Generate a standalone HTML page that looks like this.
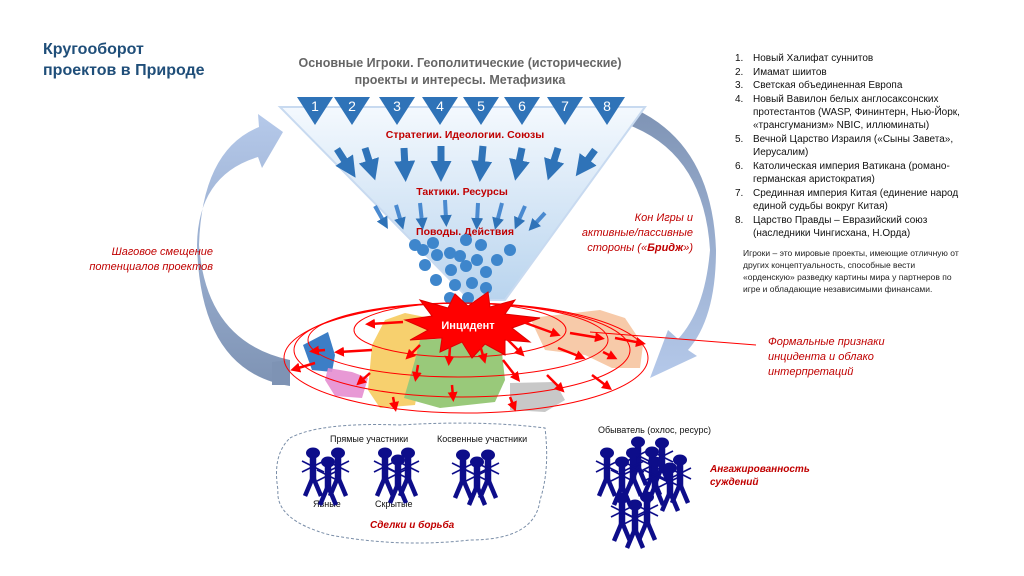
<!DOCTYPE html>
<html><head><meta charset="utf-8"><style>
html,body{margin:0;padding:0;background:#fff;}
svg{display:block;font-family:"Liberation Sans","DejaVu Sans",sans-serif;}
.r{fill:#c00000;font-style:italic;font-size:11px;}
.b{fill:#222;font-size:10px;}
.l{fill:#111;font-size:10px;}
</style></head><body>
<svg width="1024" height="576" viewBox="0 0 1024 576" xmlns="http://www.w3.org/2000/svg">
<defs>
<linearGradient id="fun" x1="0" y1="0" x2="0" y2="1">
<stop offset="0" stop-color="#f4f9fe"/><stop offset="1" stop-color="#b9d4ee"/></linearGradient>
<linearGradient id="la" x1="0" y1="0" x2="0" y2="1">
<stop offset="0" stop-color="#b5c9ea"/><stop offset="1" stop-color="#7e93b4"/></linearGradient>
<linearGradient id="ra" x1="0" y1="0" x2="0" y2="1">
<stop offset="0" stop-color="#7e93b4"/><stop offset="1" stop-color="#b5c9ea"/></linearGradient>
<marker id="ah" markerWidth="4" markerHeight="4" refX="2" refY="2" orient="auto"><path d="M0,0 L4,2 L0,4 Z" fill="#f00"/></marker>
<marker id="bh" markerWidth="3" markerHeight="3" refX="1" refY="1.5" orient="auto"><path d="M0,0 L3,1.5 L0,3 Z" fill="#2f73b8"/></marker>
<g id="man" fill="#0d0d8a" stroke="#0d0d8a">
<ellipse cx="0" cy="0" rx="7" ry="5.5" stroke="none"/>
<line x1="0" y1="3" x2="0" y2="27" stroke-width="6.5"/>
<line x1="-11" y1="19" x2="11" y2="8" stroke-width="1.6"/>
<line x1="-11" y1="8" x2="11" y2="19" stroke-width="1.6"/>
<line x1="0" y1="24" x2="-8" y2="43" stroke-width="4.5"/>
<line x1="0" y1="24" x2="8" y2="43" stroke-width="4.5"/>
</g>
</defs>

<text x="43" y="54" fill="#1f4e79" font-size="16" font-weight="bold">Кругооборот</text>
<text x="43" y="75" fill="#1f4e79" font-size="16" font-weight="bold">проектов в Природе</text>

<text x="460" y="67" fill="#666" font-size="12.5" font-weight="bold" text-anchor="middle">Основные Игроки. Геополитические (исторические)</text>
<text x="460" y="84" fill="#666" font-size="12.5" font-weight="bold" text-anchor="middle">проекты и интересы. Метафизика</text>

<path d="M290,386 Q200,372 197,245 Q198,175 258,157 L262,168 L283,132 L258,114 L259,127 Q202,150 199,245 Q206,342 290,360 Z" fill="url(#la)"/>
<path d="M628,106 Q712,140 716,250 Q716,318 688,350 L697,356 L650,378 L668,330 L678,339 Q705,310 710,250 Q704,152 626,124 Z" fill="url(#ra)"/>

<path d="M280,107 L645,107 L505,300 L470,300 Z" fill="url(#fun)" stroke="#c8daf0" stroke-width="2"/>
<g fill="#2f73b8">
<path d="M297,97 L333,97 L315,125Z"/><path d="M334,97 L370,97 L352,125Z"/><path d="M379,97 L415,97 L397,125Z"/>
<path d="M422,97 L458,97 L440,125Z"/><path d="M463,97 L499,97 L481,125Z"/><path d="M504,97 L540,97 L522,125Z"/>
<path d="M547,97 L583,97 L565,125Z"/><path d="M589,97 L625,97 L607,125Z"/>
</g>
<g fill="#fff" font-size="14" text-anchor="middle">
<text x="315" y="111">1</text><text x="352" y="111">2</text><text x="397" y="111">3</text><text x="440" y="111">4</text>
<text x="481" y="111">5</text><text x="522" y="111">6</text><text x="565" y="111">7</text><text x="607" y="111">8</text>
</g>
<g fill="#c00000" font-size="10.5" font-weight="bold" text-anchor="middle">
<text x="465" y="138">Стратегии. Идеологии. Союзы</text>
<text x="462" y="195">Тактики. Ресурсы</text>
<text x="465" y="235">Поводы. Действия</text>
</g>
<g stroke="#2f73b8" stroke-width="7" marker-end="url(#bh)">
<line x1="337" y1="149" x2="348" y2="166"/><line x1="365" y1="148" x2="371" y2="167"/>
<line x1="404" y1="148" x2="405" y2="168"/><line x1="441" y1="146" x2="441" y2="168"/>
<line x1="483" y1="146" x2="481" y2="168"/><line x1="522" y1="148" x2="518" y2="167"/>
<line x1="558" y1="148" x2="552" y2="167"/><line x1="595" y1="150" x2="584" y2="165"/>
</g>
<g stroke="#4a8ad0" stroke-width="4" marker-end="url(#bh)">
<line x1="375" y1="206" x2="384" y2="222"/><line x1="396" y1="205" x2="401" y2="222"/>
<line x1="420" y1="203" x2="422" y2="222"/><line x1="445" y1="200" x2="446" y2="219"/>
<line x1="478" y1="203" x2="477" y2="222"/><line x1="502" y1="203" x2="497" y2="222"/>
<line x1="525" y1="206" x2="518" y2="222"/><line x1="545" y1="213" x2="534" y2="225"/>
</g>
<g fill="#3e86cc">
<circle cx="415" cy="245" r="6"/><circle cx="423" cy="250" r="6"/><circle cx="433" cy="243" r="6"/><circle cx="437" cy="255" r="6"/>
<circle cx="450" cy="253" r="6"/><circle cx="460" cy="256" r="6"/><circle cx="466" cy="240" r="6"/><circle cx="481" cy="245" r="6"/>
<circle cx="477" cy="260" r="6"/><circle cx="497" cy="260" r="6"/><circle cx="510" cy="250" r="6"/><circle cx="425" cy="265" r="6"/>
<circle cx="451" cy="270" r="6"/><circle cx="466" cy="266" r="6"/><circle cx="486" cy="272" r="6"/><circle cx="436" cy="280" r="6"/>
<circle cx="455" cy="285" r="6"/><circle cx="472" cy="283" r="6"/><circle cx="486" cy="288" r="6"/><circle cx="450" cy="298" r="6"/>
<circle cx="468" cy="298" r="6"/>
</g>

<path d="M303,345 L328,332 L335,355 L332,372 L312,370 Z" fill="#3c7ec6"/>
<path d="M290,360 L290,385 L272,385 L272,362Z" fill="#7e93b4"/>
<path d="M328,368 L352,372 L368,378 L362,398 L335,396 L325,380Z" fill="#e58ed0" opacity=".9"/>
<path d="M405,313 L430,318 L425,350 L415,405 L380,408 L368,390 L372,345 L385,320Z" fill="#f7d06e"/>
<path d="M420,340 L500,335 L505,380 L495,402 L440,408 L404,398 L415,360Z" fill="#99c97a"/>
<path d="M510,383 L555,382 L565,400 L545,412 L510,410Z" fill="#c8c8c8"/>
<path d="M530,318 L600,310 L625,318 L643,345 L640,368 L612,368 L585,355 L545,350Z" fill="#f6c4a0" opacity=".9"/>

<g fill="none" stroke="#f00" stroke-width="1">
<ellipse cx="460" cy="330" rx="106" ry="27"/>
<ellipse cx="458" cy="340" rx="150" ry="37"/>
<ellipse cx="462" cy="350" rx="168" ry="47"/>
<ellipse cx="466" cy="358" rx="182" ry="55"/>
<line x1="590" y1="332" x2="756" y2="345"/>
</g>

<path d="M405,320 L432,316 L420,300 L448,308 L455,294 L468,306 L488,292 L490,307 L515,300 L505,314 L540,318 L512,328 L530,342 L505,340 L505,355 L485,344 L472,358 L462,342 L440,352 L442,338 L410,340 L428,330Z" fill="#f00" stroke="#d00" stroke-width="1"/>
<text x="468" y="329" fill="#fff" font-size="11" font-weight="bold" text-anchor="middle">Инцидент</text>

<g stroke="#f00" stroke-width="2.5" marker-end="url(#ah)">
<line x1="403" y1="322" x2="370" y2="324"/><line x1="372" y1="350" x2="339" y2="352"/>
<line x1="325" y1="350" x2="314" y2="351"/><line x1="315" y1="363" x2="295" y2="369"/>
<line x1="370" y1="373" x2="360" y2="382"/><line x1="420" y1="345" x2="409" y2="356"/>
<line x1="418" y1="365" x2="416" y2="377"/><line x1="450" y1="347" x2="449" y2="361"/>
<line x1="480" y1="345" x2="484" y2="359"/><line x1="503" y1="335" x2="521" y2="353"/>
<line x1="503" y1="360" x2="517" y2="378"/><line x1="452" y1="385" x2="453" y2="397"/>
<line x1="393" y1="397" x2="395" y2="407"/><line x1="510" y1="397" x2="514" y2="407"/>
<line x1="523" y1="322" x2="556" y2="334"/><line x1="570" y1="333" x2="600" y2="338"/>
<line x1="615" y1="338" x2="641" y2="343"/><line x1="558" y1="348" x2="581" y2="357"/>
<line x1="603" y1="352" x2="613" y2="357"/><line x1="547" y1="375" x2="561" y2="389"/>
<line x1="592" y1="375" x2="608" y2="387"/>
</g>

<g class="r" text-anchor="end">
<text x="213" y="255">Шаговое смещение</text>
<text x="213" y="270">потенциалов проектов</text>
<text x="693" y="221">Кон Игры и</text>
<text x="693" y="236">активные/пассивные</text>
<text x="693" y="251">стороны («<tspan font-weight="bold">Бридж</tspan>»)</text>
</g>
<g class="r">
<text x="768" y="345">Формальные признаки</text>
<text x="768" y="360">инцидента и облако</text>
<text x="768" y="375">интерпретаций</text>
<text x="710" y="472" font-weight="bold" font-size="10">Ангажированность</text>
<text x="710" y="485" font-weight="bold" font-size="10">суждений</text>
<text x="370" y="528" font-weight="bold" font-size="10">Сделки и борьба</text>
</g>

<g class="l">
<text x="735" y="61">1.</text><text x="753" y="61">Новый Халифат суннитов</text>
<text x="735" y="75">2.</text><text x="753" y="75">Имамат шиитов</text>
<text x="735" y="88">3.</text><text x="753" y="88">Светская объединенная Европа</text>
<text x="735" y="102">4.</text><text x="753" y="102">Новый Вавилон белых англосаксонских</text>
<text x="753" y="115">протестантов (WASP, Фининтерн, Нью-Йорк,</text>
<text x="753" y="128">«трансгуманизм» NBIC, иллюминаты)</text>
<text x="735" y="142">5.</text><text x="753" y="142">Вечной Царство Израиля («Сыны Завета»,</text>
<text x="753" y="155">Иерусалим)</text>
<text x="735" y="169">6.</text><text x="753" y="169">Католическая империя Ватикана (романо-</text>
<text x="753" y="182">германская аристократия)</text>
<text x="735" y="196">7.</text><text x="753" y="196">Срединная империя Китая (единение народ</text>
<text x="753" y="209">единой судьбы вокруг Китая)</text>
<text x="735" y="223">8.</text><text x="753" y="223">Царство Правды – Евразийский союз</text>
<text x="753" y="236">(наследники Чингисхана, Н.Орда)</text>
</g>
<g class="b" style="font-size:8.5px">
<text x="743" y="256">Игроки – это мировые проекты, имеющие  отличную от</text>
<text x="743" y="268">других концептуальность,  способные вести</text>
<text x="743" y="280">«орденскую»  разведку картины мира у партнеров по</text>
<text x="743" y="292">игре и обладающие независимыми финансами.</text>
</g>

<path d="M290,438 Q320,422 400,425 Q480,420 545,428 Q550,470 540,500 Q535,540 470,540 Q400,548 330,535 Q275,520 278,490 Q272,455 290,438Z" fill="none" stroke="#7a8ea8" stroke-width="1" stroke-dasharray="3,2"/>
<g style="font-size:9px" fill="#111">
<text x="330" y="442">Прямые участники</text>
<text x="437" y="442">Косвенные  участники</text>
<text x="313" y="507">Явные</text>
<text x="375" y="507">Скрытые</text>
<text x="598" y="433">Обыватель (охлос, ресурс)</text>
</g>
<use href="#man" x="313" y="453"/><use href="#man" x="338" y="453"/><use href="#man" x="328" y="462"/>
<use href="#man" x="385" y="453"/><use href="#man" x="408" y="453"/><use href="#man" x="398" y="460"/>
<use href="#man" x="463" y="455"/><use href="#man" x="488" y="455"/><use href="#man" x="477" y="462"/>
<use href="#man" x="638" y="442"/><use href="#man" x="662" y="443"/><use href="#man" x="607" y="453"/>
<use href="#man" x="633" y="453"/><use href="#man" x="652" y="452"/><use href="#man" x="622" y="462"/>
<use href="#man" x="655" y="462"/><use href="#man" x="680" y="460"/><use href="#man" x="670" y="468"/>
<use href="#man" x="622" y="498"/><use href="#man" x="647" y="497"/><use href="#man" x="635" y="505"/>
</svg>
</body></html>
